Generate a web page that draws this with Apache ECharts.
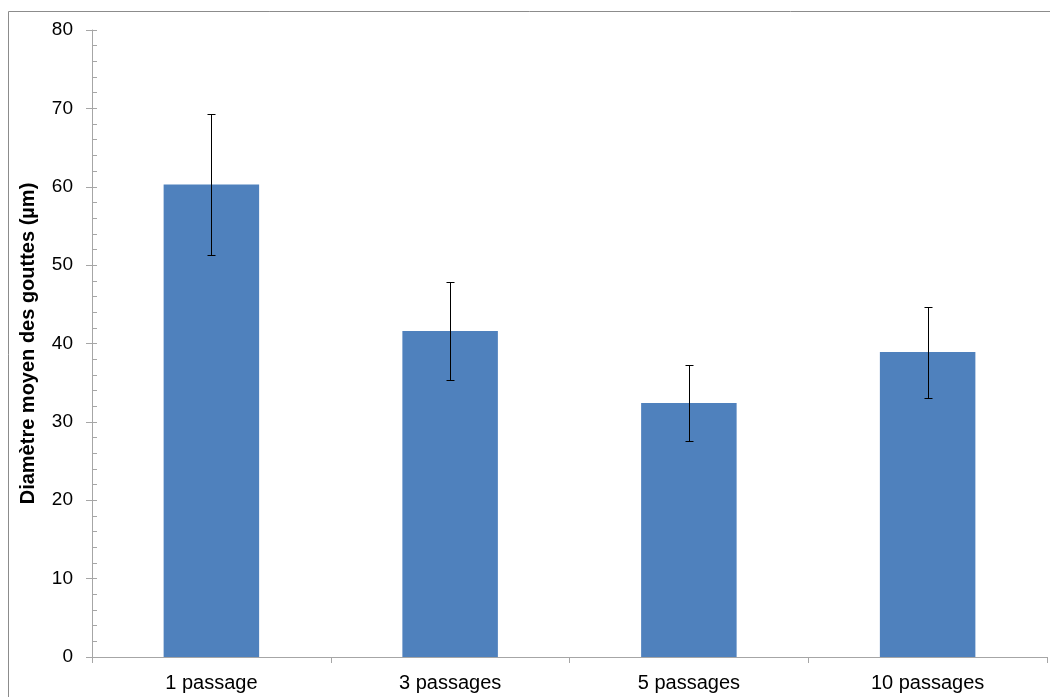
<!DOCTYPE html>
<html><head><meta charset="utf-8">
<script src="https://cdn.jsdelivr.net/npm/echarts@6/dist/echarts.min.js"></script>
<style>html,body{margin:0;padding:0;background:#fff}#c{width:1050px;height:697px}</style>
</head><body><div id="c"></div>
<script>
var categories = ['1 passage', '3 passages', '5 passages', '10 passages'];
var means = [60.3, 41.6, 32.4, 38.9];
var errors = [9.0, 6.2, 4.8, 5.8];
var yTicks = [0, 10, 20, 30, 40, 50, 60, 70, 80];
var yName = 'Diamètre moyen des gouttes (µm)';

var chart = echarts.init(document.getElementById('c'), null, {renderer: 'canvas'});
var errData = categories.map(function (c, i) { return [i, means[i] - errors[i], means[i] + errors[i]]; });
var axisGray = '#a6a6a6';
var font = 'Liberation Sans, Arial, sans-serif';
chart.setOption({
  animation: false,
  graphic: [{type: 'rect', shape: {x: 8.5, y: 11.5, width: 1100, height: 700}, style: {fill: null, stroke: '#8c8c8c', lineWidth: 1}, silent: true, z: -1}],
  grid: {left: 92, right: 3, top: 30, bottom: 40},
  xAxis: {
    type: 'category', data: categories, boundaryGap: true,
    axisLine: {lineStyle: {color: axisGray, width: 1}},
    axisTick: {show: true, length: 6, lineStyle: {color: axisGray}},
    axisLabel: {color: '#000', fontSize: 20, fontFamily: font, margin: 16}
  },
  yAxis: [{
    type: 'value', min: 0, max: 80, interval: 10,
    name: yName, nameLocation: 'middle', nameGap: 54, nameRotate: 90,
    nameTextStyle: {color: '#000', fontSize: 20, fontWeight: 'bold', fontFamily: font},
    axisLine: {show: true, lineStyle: {color: axisGray}},
    axisTick: {show: true, length: 6, lineStyle: {color: axisGray}},
    axisLabel: {color: '#000', fontSize: 19, fontFamily: font, margin: 19,
      formatter: function (v) { return yTicks.indexOf(v) >= 0 ? String(v) : ''; }},
    splitLine: {show: false}
  }, {
    type: 'value', min: 0, max: 80, interval: 10, position: 'left', offset: 0,
    axisLine: {show: false},
    axisTick: {show: true, inside: true, length: 5, lineStyle: {color: axisGray}},
    minorTick: {show: true, splitNumber: 5, length: 5, lineStyle: {color: axisGray}},
    axisLabel: {show: false}, splitLine: {show: false}
  }],
  series: [{
    type: 'bar', data: means, barWidth: '40%', yAxisIndex: 0,
    itemStyle: {color: '#4F81BD'}
  }, {
    type: 'custom', yAxisIndex: 0, data: errData, z: 10,
    renderItem: function (params, api) {
      var x = api.value(0);
      var lo = api.coord([x, api.value(1)]);
      var hi = api.coord([x, api.value(2)]);
      var cx = Math.round(lo[0]) + 0.5;
      var hw = 4;
      var ly = Math.round(lo[1]) + 0.5, hy = Math.round(hi[1]) + 0.5;
      var st = {stroke: '#000', lineWidth: 1};
      return {type: 'group', children: [
        {type: 'line', shape: {x1: cx, y1: hy, x2: cx, y2: ly}, style: st},
        {type: 'line', shape: {x1: cx - hw, y1: hy, x2: cx + hw, y2: hy}, style: st},
        {type: 'line', shape: {x1: cx - hw, y1: ly, x2: cx + hw, y2: ly}, style: st}
      ]};
    }
  }]
});
</script></body></html>
